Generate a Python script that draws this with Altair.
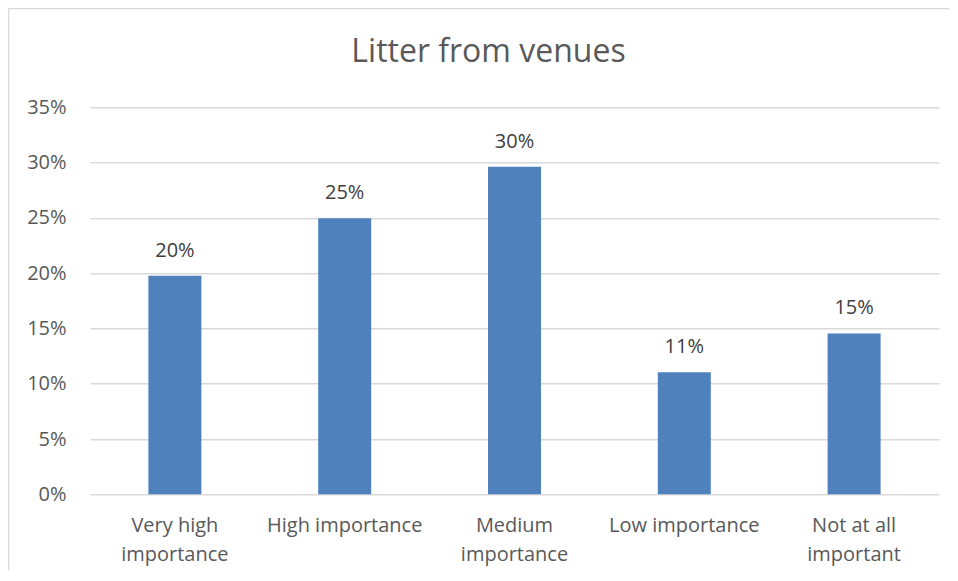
import altair as alt
import pandas as pd

categories = ["Very high importance", "High importance", "Medium importance",
              "Low importance", "Not at all important"]
values = [0.1976, 0.2496, 0.2963, 0.1103, 0.1455]
label_lines = [["Very high", "importance"], ["High importance"],
               ["Medium", "importance"], ["Low importance"],
               ["Not at all", "important"]]
y_ticks = [0, 0.05, 0.10, 0.15, 0.20, 0.25, 0.30, 0.35]
title_text = "Litter from venues"

df = pd.DataFrame({"category": categories, "value": values})

expr = "datum.label"
for cat, lines in reversed(list(zip(categories, label_lines))):
    arr = "[" + ",".join("'" + l + "'" for l in lines) + "]"
    expr = f"datum.value == '{cat}' ? {arr} : ({expr})"

FONT = "Open Sans"
GRAY = "#595959"

base = alt.Chart(df).encode(
    x=alt.X("category:N", sort=categories, title=None,
            scale=alt.Scale(paddingInner=0, paddingOuter=0),
            axis=alt.Axis(labelAngle=0, labelExpr=expr, labelFontSize=20,
                          labelFont=FONT, labelColor=GRAY, labelLineHeight=29,
                          labelPadding=21, ticks=False, tickSize=0,
                          domain=False, grid=False)),
    y=alt.Y("value:Q", title=None,
            scale=alt.Scale(domain=[0, 0.35], nice=False),
            axis=alt.Axis(values=y_ticks, format=".0%", labelFontSize=20,
                          labelFont=FONT, labelColor=GRAY, labelPadding=24,
                          ticks=False, tickSize=0, domain=False,
                          gridColor="#d9d9d9", gridWidth=1.5)),
)

bars = base.mark_bar(size=53, color="#4f81bd")
texts = base.mark_text(dy=-19, baseline="alphabetic", fontSize=20,
                       font=FONT, color="#404040").encode(
    text=alt.Text("value:Q", format=".0%"))

frame_df = pd.DataFrame({"a": [0]})
left_edge = alt.Chart(frame_df).mark_rule(
    color="#d9d9d9", strokeWidth=1.5, clip=False).encode(
    x=alt.value(-81.5), y=alt.value(-98.8), y2=alt.value(900))
top_edge = alt.Chart(frame_df).mark_rule(
    color="#d9d9d9", strokeWidth=1.5, clip=False).encode(
    x=alt.value(-81.5), x2=alt.value(1400), y=alt.value(-98.8))

chart = alt.layer(left_edge, top_edge, bars, texts).properties(
    width=849, height=387,
    title=alt.TitleParams(title_text, fontSize=32, font=FONT, color=GRAY,
                          fontWeight="normal", anchor="middle", frame="group",
                          dx=-26, offset=-61),
    autosize=alt.AutoSizeParams(type="none"),
    padding={"left": 82, "top": 99.3, "right": 10, "bottom": 76},
).configure_view(stroke=None)

chart.save("out.html", embed_options={"renderer": "svg", "actions": False})
